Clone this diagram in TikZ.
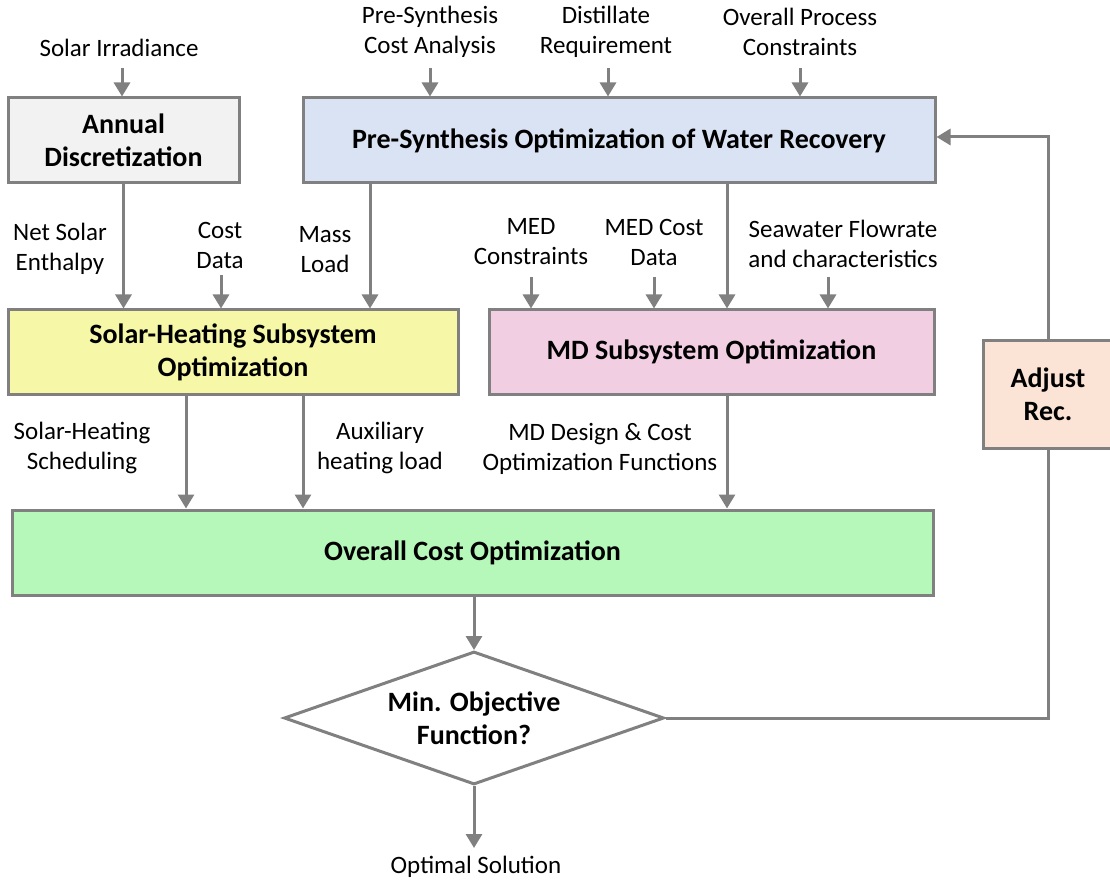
\documentclass[tikz,border=0pt]{standalone}
\usepackage{fontspec}
\setmainfont{Carlito}
\usetikzlibrary{shapes.geometric,arrows.meta,backgrounds}
\definecolor{lc}{HTML}{808080}
\definecolor{cann}{HTML}{F2F2F2}
\definecolor{cpre}{HTML}{DAE3F3}
\definecolor{csol}{HTML}{F6F7A7}
\definecolor{cmd}{HTML}{F2CEE3}
\definecolor{coc}{HTML}{B6F7BA}
\definecolor{cadj}{HTML}{FBE3D5}
\tikzset{
  box/.style={draw=lc, line width=3pt, inner sep=0pt, align=center,
     font=\fontsize{28}{33}\selectfont\bfseries},
  btxt/.style={inner sep=0pt, align=center, font=\fontsize{28}{33}\selectfont\bfseries},
  lab/.style={inner sep=0pt, align=center, font=\fontsize{25}{30}\selectfont},
  arr/.style={draw=lc, line width=3pt, -{Triangle[width=16pt,length=14pt]}},
}
\begin{document}
\begin{tikzpicture}[x=1pt,y=-1pt]
\useasboundingbox (0,0) rectangle (1110,882);
% boxes
\node[box, fill=cann, minimum width=231pt, minimum height=85pt] (ann) at (123.5,140.5) {Annual\\Discretization};
\node[box, fill=cpre, minimum width=632pt, minimum height=85pt] (pre) at (619,140.5) {Pre-Synthesis Optimization of Water Recovery};
\node[box, fill=csol, minimum width=450pt, minimum height=84pt] (sol) at (233,352) {Solar-Heating Subsystem\\Optimization};
\node[box, fill=cmd, minimum width=445pt, minimum height=84pt] (md) at (711.5,352) {MD Subsystem Optimization};
\node[box, fill=coc, minimum width=921pt, minimum height=85pt] (oc) at (472.5,552.5) {Overall Cost Optimization};
\node[box, fill=white, shape=diamond, minimum width=380pt, minimum height=133pt] (dia) at (474,718) {};
\node[btxt] (diat) at (474,718) {Min. Objective\\Function?};
\node[box, fill=cadj, minimum width=130pt, minimum height=108pt] (adj) at (1048,394) {Adjust\\Rec.};
% labels
\node[lab] (irr) at (119,48) {Solar Irradiance};
\node[lab] (pca) at (430,32) {Pre-Synthesis\\Cost Analysis};
\node[lab] (dis) at (606,32) {Distillate\\Requirement};
\node[lab] (opc) at (800,32) {Overall Process\\Constraints};
\node[lab] (nse) at (60,249) {Net Solar\\Enthalpy};
\node[lab] (cd) at (220,245) {Cost\\Data};
\node[lab] (ml) at (325,250) {Mass\\Load};
\node[lab] (medc) at (531,242) {MED\\Constraints};
\node[lab] (medd) at (654,242) {MED Cost\\Data};
\node[lab] (sw) at (843,244) {Seawater Flowrate\\and characteristics};
\node[lab] (shs) at (82,448) {Solar-Heating\\Scheduling};
\node[lab] (aux) at (380,448) {Auxiliary\\heating load};
\node[lab] (mdd) at (600,449) {MD Design \& Cost\\Optimization Functions};
\node[lab] (opt) at (476,867) {Optimal Solution};
% arrow start coordinates
\coordinate (irrs) at (122,68);
\coordinate (pcas) at (430,68);
\coordinate (diss) at (608,68);
\coordinate (opcs) at (800,68);
\coordinate (cds) at (221,275);
\coordinate (medcs) at (531,277);
\coordinate (medds) at (654,277);
\coordinate (sws) at (828,277);
\coordinate (mlx) at (370,0);
\coordinate (mdx) at (727,0);
\coordinate (s1x) at (186,0);
\coordinate (s2x) at (303,0);
\coordinate (opte) at (474,848);
\coordinate (fb) at (1048,137);
% arrows
\draw[arr] (irrs) -- (ann.north -| irrs);
\draw[arr] (pcas) -- (pre.north -| pcas);
\draw[arr] (diss) -- (pre.north -| diss);
\draw[arr] (opcs) -- (pre.north -| opcs);
\draw[arr] (ann.south) -- (sol.north -| ann.south);
\draw[arr] (cds) -- (sol.north -| cds);
\draw[arr] (pre.south -| mlx) -- (sol.north -| mlx);
\draw[arr] (pre.south -| mdx) -- (md.north -| mdx);
\draw[arr] (medcs) -- (md.north -| medcs);
\draw[arr] (medds) -- (md.north -| medds);
\draw[arr] (sws) -- (md.north -| sws);
\draw[arr] (sol.south -| s1x) -- (oc.north -| s1x);
\draw[arr] (sol.south -| s2x) -- (oc.north -| s2x);
\draw[arr] (md.south -| mdx) -- (oc.north -| mdx);
\draw[arr] (oc.south -| dia.north) -- (dia.north);
\draw[arr] (dia.south) -- (opte);
\begin{pgfonlayer}{background}
\draw[arr] (dia.east) -| (fb) -- (pre.east |- fb);
\end{pgfonlayer}
\end{tikzpicture}
\end{document}
